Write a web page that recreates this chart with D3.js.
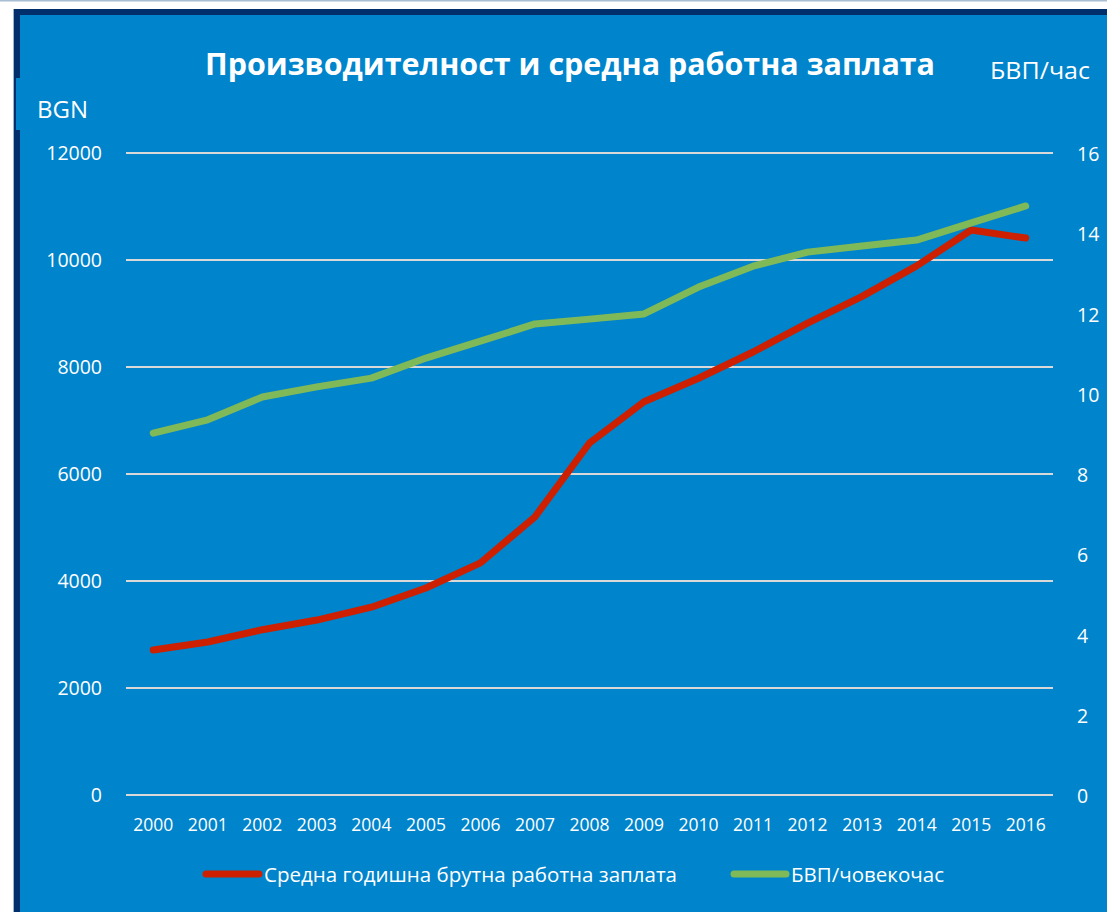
<!DOCTYPE html>
<html>
<head>
<meta charset="utf-8">
<title>Производителност и средна работна заплата</title>
<style type="text/css">
    body{ margin:0; background:#fff; }
    svg text{ font-family:"Open Sans", "Noto Sans", sans-serif; fill:#fff; }
</style>
</head>
<body>
<div id="chart"></div>

<script src="https://cdn.jsdelivr.net/npm/d3@7"></script>
<script type="text/javascript">

    // data
    var years = ['2000','2001','2002','2003','2004','2005','2006','2007','2008',
                 '2009','2010','2011','2012','2013','2014','2015','2016'];
    var wage = [2710, 2860, 3090, 3270, 3510, 3870, 4340, 5200, 6580,
                7350, 7790, 8280, 8820, 9320, 9890, 10560, 10410];
    var gdpPerHour = [9.02, 9.35, 9.92, 10.17, 10.39, 10.89, 11.31, 11.74, 11.86,
                      11.99, 12.66, 13.18, 13.53, 13.68, 13.83, 14.26, 14.68];
    var leftTicks = [0, 2000, 4000, 6000, 8000, 10000, 12000];
    var rightTicks = [0, 2, 4, 6, 8, 10, 12, 14, 16];
    var seriesNames = ['Средна годишна брутна работна заплата', 'БВП/човекочас'];

    var width = 1107, height = 912;
    var plot = {left:126, right:1053, top:153, bottom:795};

    var blue = '#0084CB', navy = '#002F6C',
        red = '#CC2000', green = '#80B957', grid = '#D9D9D9';

    var svg = d3.select('#chart').append('svg')
        .attr('width', width)
        .attr('height', height);

/*-----------------------------------------------------------------------
    frame
-----------------------------------------------------------------------*/
    svg.append('rect').attr('x',0).attr('y',0).attr('width',width).attr('height',1.5).style('fill','#A9BED3');
    svg.append('rect').attr('x',13).attr('y',9).attr('width',width-13).attr('height',height-9).style('fill','#9DB3CB');
    svg.append('rect').attr('x',14).attr('y',9).attr('width',width-14).attr('height',height-9).style('fill',navy);
    svg.append('rect').attr('x',20).attr('y',15).attr('width',width-20).attr('height',height-15).style('fill',blue);
    // little notch on the left side next to "BGN"
    svg.append('rect').attr('x',16).attr('y',78).attr('width',6).attr('height',52).style('fill',blue);

/*-----------------------------------------------------------------------
    scales
-----------------------------------------------------------------------*/
    var x = d3.scaleBand().domain(years).range([plot.left, plot.right]);
    var yL = d3.scaleLinear().domain([0, 12000]).range([plot.bottom, plot.top]);
    var yR = d3.scaleLinear().domain([0, 16]).range([plot.bottom, plot.top]);

    // gridlines
    svg.append('g').selectAll('line')
        .data(leftTicks)
        .enter().append('line')
        .attr('x1', plot.left).attr('x2', plot.right)
        .attr('y1', d=>yL(d)).attr('y2', d=>yL(d))
        .style('stroke', grid).style('stroke-width', 2);

    // left axis labels
    svg.append('g').selectAll('text')
        .data(leftTicks)
        .enter().append('text')
        .attr('x', 102).attr('y', d=>yL(d)+7)
        .attr('text-anchor','end')
        .style('font-size','19.5px')
        .text(d=>d);

    // right axis labels
    svg.append('g').selectAll('text')
        .data(rightTicks)
        .enter().append('text')
        .attr('x', 1077).attr('y', d=>yR(d)+8)
        .style('font-size','19.5px')
        .text(d=>d);

    // x labels
    svg.append('g').selectAll('text')
        .data(years)
        .enter().append('text')
        .attr('x', d=>x(d)+x.bandwidth()/2).attr('y', 831)
        .attr('text-anchor','middle')
        .style('font-size','17.5px')
        .text(d=>d);

/*-----------------------------------------------------------------------
    lines
-----------------------------------------------------------------------*/
    var lineL = d3.line().x((d,i)=>x(years[i])+x.bandwidth()/2).y(d=>yL(d));
    var lineR = d3.line().x((d,i)=>x(years[i])+x.bandwidth()/2).y(d=>yR(d));

    svg.append('path').datum(wage)
        .attr('d', lineL)
        .style('fill','none').style('stroke', red)
        .style('stroke-width', 7).style('stroke-linecap','round').style('stroke-linejoin','round');

    svg.append('path').datum(gdpPerHour)
        .attr('d', lineR)
        .style('fill','none').style('stroke', green)
        .style('stroke-width', 7).style('stroke-linecap','round').style('stroke-linejoin','round');

/*-----------------------------------------------------------------------
    titles
-----------------------------------------------------------------------*/
    svg.append('text')
        .attr('x', 205).attr('y', 75)
        .attr('textLength', 730).attr('lengthAdjust','spacingAndGlyphs')
        .style('font-size','30px').style('font-weight','bold')
        .text('Производителност и средна работна заплата');

    svg.append('text')
        .attr('x', 990).attr('y', 79)
        .attr('textLength', 100).attr('lengthAdjust','spacingAndGlyphs')
        .style('font-size','24px')
        .text('БВП/час');

    svg.append('text')
        .attr('x', 37).attr('y', 118)
        .style('font-size','24px')
        .text('BGN');

/*-----------------------------------------------------------------------
    legend
-----------------------------------------------------------------------*/
    var legend = [
        {name:seriesNames[0], color:red,   x1:206, x2:259, tx:264, tw:413},
        {name:seriesNames[1], color:green, x1:734, x2:786, tx:791, tw:153}
    ];
    var lg = svg.append('g').selectAll('g').data(legend).enter().append('g');
    lg.append('line')
        .attr('x1', d=>d.x1).attr('x2', d=>d.x2)
        .attr('y1', 874).attr('y2', 874)
        .style('stroke', d=>d.color).style('stroke-width', 7).style('stroke-linecap','round');
    lg.append('text')
        .attr('x', d=>d.tx).attr('y', 882)
        .attr('textLength', d=>d.tw).attr('lengthAdjust','spacingAndGlyphs')
        .style('font-size','20px')
        .text(d=>d.name);

</script>
</body>
</html>
